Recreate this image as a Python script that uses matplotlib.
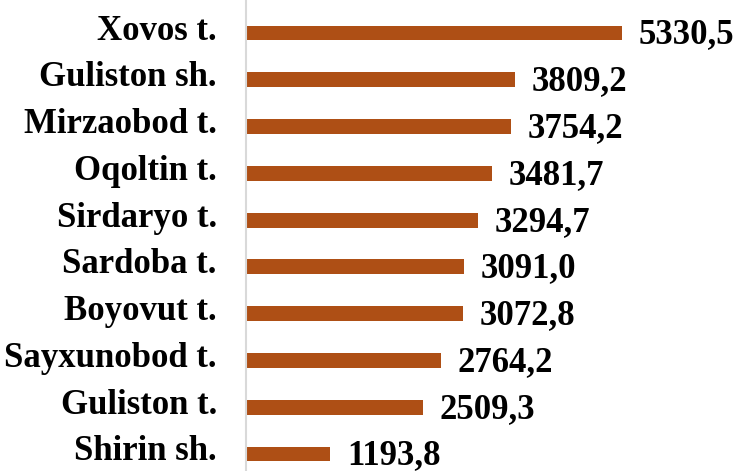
import matplotlib

matplotlib.use("Agg")
import matplotlib.pyplot as plt
import matplotlib.transforms as mtransforms

categories = [
    "Shirin sh.", "Guliston t.", "Sayxunobod t.", "Boyovut t.", "Sardoba t.",
    "Sirdaryo t.", "Oqoltin t.", "Mirzaobod t.", "Guliston sh.", "Xovos t.",
]
values = [1193.8, 2509.3, 2764.2, 3072.8, 3091.0, 3294.7, 3481.7, 3754.2, 3809.2, 5330.5]
value_labels = ["1193,8", "2509,3", "2764,2", "3072,8", "3091,0",
                "3294,7", "3481,7", "3754,2", "3809,2", "5330,5"]

plt.rcParams["font.family"] = ["Liberation Serif", "DejaVu Serif"]
plt.rcParams["font.weight"] = "bold"

W, H = 738, 471
fig = plt.figure(figsize=(W / 100, H / 100), dpi=100)
left = 246 / W
ax = fig.add_axes([left, 0, 1 - left, 1])

px_per_unit = 376 / 5330.5
ax.set_xlim(0, (W - 246) / px_per_unit)
row = 421 / 9
ax.set_ylim(-17 / row, 9 + 33 / row)

y = range(len(categories))
ax.barh(y, values, height=0.32, color="#AE4F15")
for yi, v, lab in zip(y, values, value_labels):
    ax.annotate(lab, (v, yi), xytext=(12, -1.5), textcoords="offset points",
                ha="left", va="center", fontsize=25, fontweight="bold")

ax.set_yticks(list(y))
ax.set_yticklabels(categories, fontsize=25, fontweight="bold")
ax.tick_params(axis="y", length=0, pad=21)
# category names sit a little above the bar centres
shift = mtransforms.ScaledTranslation(0, 6 / 100, fig.dpi_scale_trans)
for t in ax.get_yticklabels():
    t.set_transform(t.get_transform() + shift)
ax.set_xticks([])
for s in ("top", "right", "bottom"):
    ax.spines[s].set_visible(False)
ax.spines["left"].set_color("#D9D9D9")
ax.spines["left"].set_linewidth(1.5)

fig.savefig("out.png", dpi=100)
